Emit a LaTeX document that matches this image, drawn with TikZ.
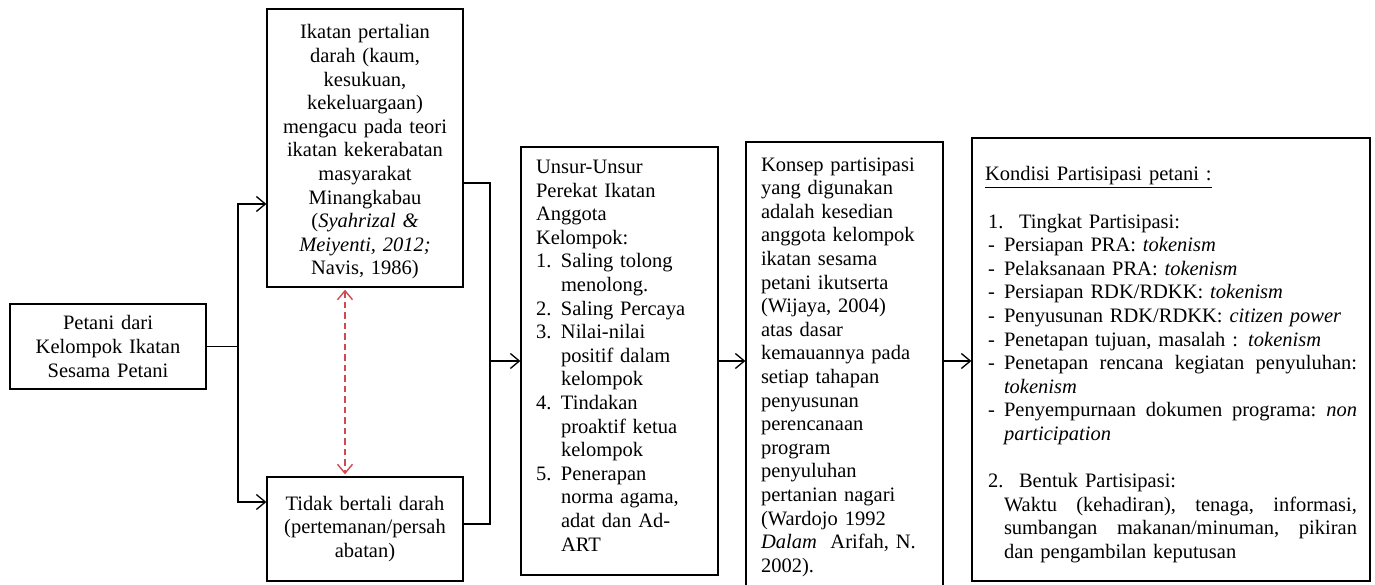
\documentclass[tikz,border=0pt]{standalone}
\usepackage{fontspec}
\setmainfont{Liberation Serif}
\usepackage{tikz}
\usetikzlibrary{arrows.meta}
\definecolor{relred}{RGB}{205,75,80}
\newcommand{\numlabel}[1]{\makebox[25pt][l]{#1}}
\newcommand{\indentline}{\hspace*{25pt}}
\newcommand{\dashitem}{\hspace*{3pt}\makebox[16pt][l]{-}}
\newcommand{\spreadline}[1]{\hbox to 353pt{#1}}

\begin{document}
\begin{tikzpicture}[x=1pt, y=-1pt,
	box/.style={draw, line width=1.3pt, font=\fontsize{20.5}{23.6}\selectfont},
	centerbox/.style={box, inner sep=0pt, align=center, text width=185pt},
	leftbox/.style={box, inner xsep=15pt, inner ysep=0pt, align=left, text width=167pt},
	link/.style={line width=1.3pt},
	arr/.style={link, -{Straight Barb[length=9pt,width=15pt,line width=1.3pt]}},
	relation/.style={line width=1.4pt, relred, dash pattern=on 6.5pt off 4pt,
		{Straight Barb[length=9pt,width=15pt]}-{Straight Barb[length=9pt,width=15pt]}}]

		\useasboundingbox (0,0) rectangle (1375,585);
		\clip (0,0) rectangle (1375,585);

		% left box %
		\node[centerbox, minimum width=196pt, minimum height=85pt] (petani) at (108,346.5)
			{Petani dari\\Kelompok Ikatan\\Sesama Petani};

		% top box %
		\node[centerbox, minimum width=196pt, minimum height=278pt] (ikatan) at (365,148)
			{\rule{0pt}{22pt}Ikatan pertalian\\darah (kaum,\\kesukuan,\\kekeluargaan)\\mengacu pada teori\\ikatan kekerabatan\\masyarakat\\Minangkabau\\(\textit{Syahrizal \&}\\\textit{Meiyenti, 2012;}\\Navis, 1986)};

		% bottom box %
		\node[centerbox, minimum width=196pt, minimum height=104pt] (tidak) at (365,529)
			{Tidak bertali darah\\(pertemanan/persah\\abatan)};

		% unsur box %
		\node[leftbox, minimum width=197pt, minimum height=428pt] (unsur) at (619.5,361)
			{Unsur-Unsur\\Perekat Ikatan\\Anggota\\Kelompok:\\
			\numlabel{1.}Saling tolong\\\indentline menolong.\\
			\numlabel{2.}Saling Percaya\\
			\numlabel{3.}Nilai-nilai\\\indentline positif dalam\\\indentline kelompok\\
			\numlabel{4.}Tindakan\\\indentline proaktif ketua\\\indentline kelompok\\
			\numlabel{5.}Penerapan\\\indentline norma agama,\\\indentline adat dan Ad-\\\indentline ART\rule[-11pt]{0pt}{11pt}};

		% konsep box %
		\node[leftbox, minimum width=197pt, minimum height=450pt] (konsep) at (844.5,367)
			{Konsep partisipasi\\yang digunakan\\adalah kesedian\\anggota kelompok\\ikatan sesama\\petani ikutserta\\(Wijaya, 2004)\\atas dasar\\kemauannya pada\\setiap tahapan\\penyusunan\\perencanaan\\program\\penyuluhan\\pertanian nagari\\(Wardojo 1992\\\textit{Dalam}\ \ Arifah, N.\\2002).};

		% kondisi box %
		\node[box, inner xsep=13pt, inner ysep=0pt, align=left, text width=372pt,
			minimum width=398pt, minimum height=443pt] (kondisi) at (1171,359.5)
			{\rule{0pt}{25pt}\underline{Kondisi Partisipasi petani :}\\[\baselineskip]
			\hspace*{3pt}\makebox[31pt][l]{1.}Tingkat Partisipasi:\\
			\dashitem Persiapan PRA: \textit{tokenism}\\
			\dashitem Pelaksanaan PRA: \textit{tokenism}\\
			\dashitem Persiapan RDK/RDKK: \textit{tokenism}\\
			\dashitem Penyusunan RDK/RDKK: \textit{citizen power}\\
			\dashitem Penetapan tujuan, masalah : \textit{tokenism}\\
			\dashitem\spreadline{Penetapan\hfill rencana\hfill kegiatan\hfill penyuluhan:}\\
			\hspace*{19pt}\textit{tokenism}\\
			\dashitem\spreadline{Penyempurnaan\hfill dokumen\hfill programa:\hfill \textit{non}}\\
			\hspace*{19pt}\textit{participation}\\[\baselineskip]
			\hspace*{3pt}\makebox[31pt][l]{2.}Bentuk Partisipasi:\\
			\hspace*{19pt}\spreadline{Waktu\hfill (kehadiran),\hfill tenaga,\hfill informasi,}\\
			\hspace*{19pt}\spreadline{sumbangan\hfill makanan/minuman,\hfill pikiran}\\
			\hspace*{19pt}dan pengambilan keputusan};

		% left split %
		\coordinate (splitL) at (238,346.5);
		\coordinate (toIkatan) at (238,204);
		\coordinate (toTidak) at (238,502);
		\draw[link] (petani.east) -- (splitL);
		\draw[arr] (splitL) -- (toIkatan) -- (toIkatan -| ikatan.west);
		\draw[arr] (splitL) -- (toTidak) -- (toTidak -| tidak.west);

		% relation between the two bonds %
		\draw[relation] ([xshift=-20pt,yshift=-2pt]ikatan.south) -- ([xshift=-20pt,yshift=2pt]tidak.north);

		% right join %
		\coordinate (fromIkatan) at (490,183);
		\coordinate (fromTidak) at (490,524);
		\coordinate (joinR) at (490,361);
		\draw[link] (fromIkatan -| ikatan.east) -- (fromIkatan) -- (fromTidak) -- (fromTidak -| tidak.east);
		\draw[arr] (joinR) -- (joinR -| unsur.west);
		\draw[arr] (joinR -| unsur.east) -- (joinR -| konsep.west);
		\draw[arr] (joinR -| konsep.east) -- (joinR -| kondisi.west);

	\end{tikzpicture}
\end{document}
